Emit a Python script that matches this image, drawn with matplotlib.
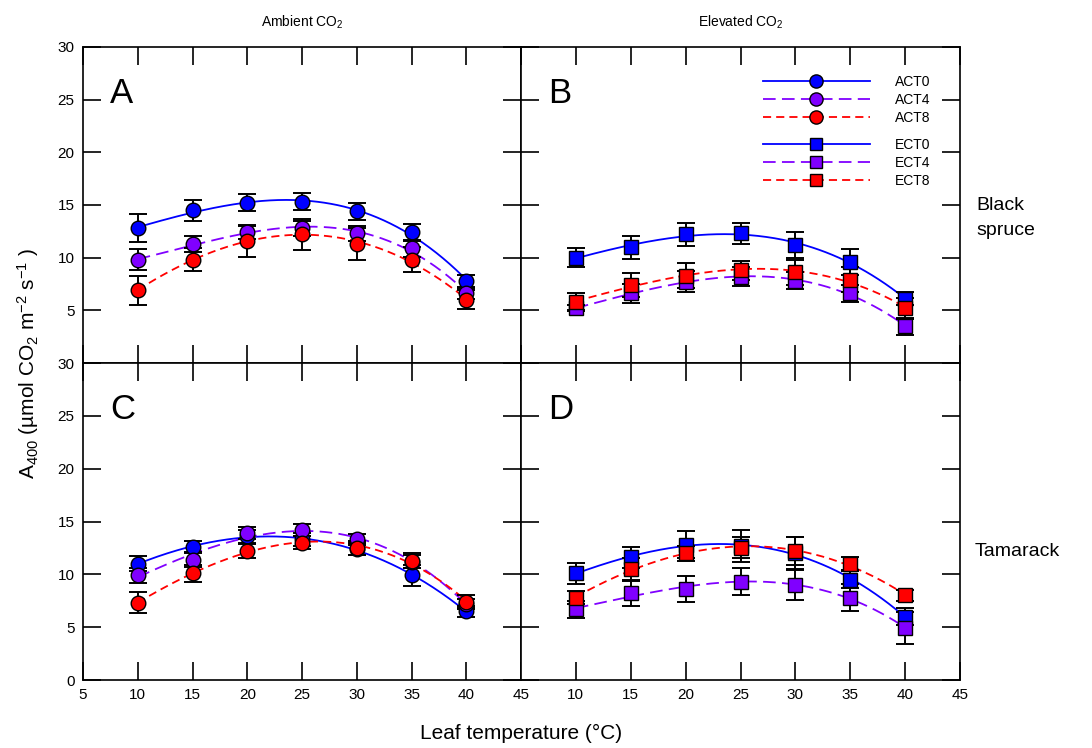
import numpy as np
import matplotlib
matplotlib.use("Agg")
import matplotlib.pyplot as plt
from matplotlib.lines import Line2D

plt.rcParams["font.family"] = ["Liberation Sans", "DejaVu Sans"]
plt.rcParams["mathtext.fontset"] = "custom"
plt.rcParams["mathtext.rm"] = "Liberation Sans"
plt.rcParams["mathtext.it"] = "Liberation Sans:italic"

temps = [10, 15, 20, 25, 30, 35, 40]

# Panel A: black spruce, ambient CO2
a_t0 = [12.8, 14.5, 15.2, 15.3, 14.4, 12.4, 7.8]
a_t0_err = [1.3, 1.0, 0.8, 0.8, 0.8, 0.8, 0.6]
a_t4 = [9.8, 11.3, 12.4, 12.8, 12.3, 10.9, 6.6]
a_t4_err = [1.0, 0.8, 0.6, 0.7, 0.7, 0.8, 0.5]
a_t8 = [6.9, 9.8, 11.6, 12.2, 11.3, 9.8, 6.0]
a_t8_err = [1.4, 1.1, 1.5, 1.5, 1.5, 1.2, 0.9]

# Panel B: black spruce, elevated CO2
b_t0 = [10.0, 11.0, 12.2, 12.3, 11.2, 9.6, 6.1]
b_t0_err = [0.9, 1.1, 1.1, 1.0, 1.2, 1.2, 0.6]
b_t4 = [5.2, 6.6, 7.7, 8.2, 7.8, 6.6, 3.5]
b_t4_err = [0.3, 0.9, 1.0, 0.9, 0.8, 0.8, 0.8]
b_t8 = [5.8, 7.4, 8.3, 8.8, 8.6, 7.9, 5.2]
b_t8_err = [0.8, 1.1, 1.2, 0.9, 1.2, 1.2, 1.0]

# Panel C: tamarack, ambient CO2
c_t0 = [11.0, 12.6, 13.6, 13.3, 12.4, 9.9, 6.5]
c_t0_err = [0.7, 0.6, 0.6, 0.6, 0.6, 1.0, 0.5]
c_t4 = [9.9, 11.4, 13.9, 14.2, 13.3, 11.2, 7.2]
c_t4_err = [0.7, 0.7, 0.6, 0.6, 0.5, 0.6, 0.5]
c_t8 = [7.3, 10.1, 12.2, 13.0, 12.5, 11.3, 7.4]
c_t8_err = [1.0, 0.8, 0.7, 0.6, 0.7, 0.7, 0.6]

# Panel D: tamarack, elevated CO2
d_t0 = [10.1, 11.6, 12.8, 12.7, 12.0, 9.5, 6.0]
d_t0_err = [1.0, 1.0, 1.3, 1.5, 1.5, 0.8, 0.8]
d_t4 = [6.7, 8.2, 8.6, 9.3, 9.0, 7.8, 4.9]
d_t4_err = [0.8, 1.2, 1.2, 1.3, 1.4, 1.3, 1.5]
d_t8 = [7.8, 10.5, 12.0, 12.5, 12.2, 11.0, 8.0]
d_t8_err = [0.6, 1.0, 0.7, 1.0, 1.3, 0.6, 0.5]

blue = "#0000ff"
purple = "#8000ff"
red = "#ff0000"
styles = [
    (blue, (None, None), "-"),
    (purple, (7, 3.5), "--"),
    (red, (4.5, 2.8), "--"),
]

fig = plt.figure(figsize=(10.92, 7.48), dpi=100)

L, M, R = 83 / 1092, 521 / 1092, 960 / 1092
T, C, B = 1 - 47 / 748, 1 - 363 / 748, 1 - 680 / 748
w = M - L
h = T - C

ax_a = fig.add_axes([L, C, w, h])
ax_b = fig.add_axes([M, C, R - M, h])
ax_c = fig.add_axes([L, B, w, C - B])
ax_d = fig.add_axes([M, B, R - M, C - B])

panels = [
    (ax_a, "A", "o", [(a_t0, a_t0_err), (a_t4, a_t4_err), (a_t8, a_t8_err)]),
    (ax_b, "B", "s", [(b_t0, b_t0_err), (b_t4, b_t4_err), (b_t8, b_t8_err)]),
    (ax_c, "C", "o", [(c_t0, c_t0_err), (c_t4, c_t4_err), (c_t8, c_t8_err)]),
    (ax_d, "D", "s", [(d_t0, d_t0_err), (d_t4, d_t4_err), (d_t8, d_t8_err)]),
]

xs = np.linspace(10, 40, 200)
for ax, letter, mk, series in panels:
    for (vals, errs), (col, dash, ls) in zip(series, styles):
        coef = np.polyfit(temps, vals, 3)
        ln, = ax.plot(xs, np.polyval(coef, xs), color=col, lw=1.3, ls=ls, zorder=2)
        if dash[0] is not None:
            ln.set_dashes(dash)
        ax.errorbar(temps, vals, yerr=errs, fmt="none", ecolor="black",
                    elinewidth=1.4, capsize=6.5, capthick=1.4, zorder=3)
        ax.plot(temps, vals, ls="none", marker=mk, ms=10.5 if mk == "o" else 10,
                mfc=col, mec="black", mew=1.0, zorder=4)
    ax.set_xlim(5, 45)
    ax.set_ylim(0, 30)
    ax.set_xticks([5, 10, 15, 20, 25, 30, 35, 40, 45])
    ax.tick_params(direction="in", length=13, width=1.2, top=True, right=True,
                   labelsize=11, pad=6)
    for sp in ax.spines.values():
        sp.set_linewidth(1.2)
    ax.text(0.062, 0.822, letter, transform=ax.transAxes, fontsize=25,
            va="baseline", ha="left")

ax_a.set_yticks([5, 10, 15, 20, 25, 30])
ax_b.set_yticks([5, 10, 15, 20, 25, 30])
ax_c.set_yticks([0, 5, 10, 15, 20, 25, 30])
ax_d.set_yticks([0, 5, 10, 15, 20, 25, 30])
for ax in (ax_a, ax_b):
    ax.tick_params(labelbottom=False)
for ax in (ax_b, ax_d):
    ax.tick_params(labelleft=False)
ax_d.set_xticks([10, 15, 20, 25, 30, 35, 40, 45])

# legend in panel B
def handle(col, dash, ls, mk):
    ln = Line2D([], [], color=col, lw=1.3, ls=ls, marker=mk,
                ms=9.5 if mk == "o" else 9, mfc=col, mec="black", mew=1.0)
    if dash[0] is not None:
        ln.set_dashes(dash)
    return ln

labels_a = ["ACT0", "ACT4", "ACT8"]
labels_e = ["ECT0", "ECT4", "ECT8"]
leg_kw = dict(loc="upper left", frameon=False, fontsize=10, handlelength=7.7,
              handletextpad=1.8, labelspacing=0.3, numpoints=1,
              borderaxespad=0, borderpad=0)
leg1 = ax_b.legend([handle(c, d, s, "o") for c, d, s in styles], labels_a,
                   bbox_to_anchor=(0.551, 0.912), **leg_kw)
ax_b.add_artist(leg1)
ax_b.legend([handle(c, d, s, "s") for c, d, s in styles], labels_e,
            bbox_to_anchor=(0.551, 0.713), **leg_kw)

fig.text((L + M) / 2, 1 - 22 / 748, r"Ambient CO$_2$", ha="center", va="center", fontsize=10)
fig.text((M + R) / 2, 1 - 22 / 748, r"Elevated CO$_2$", ha="center", va="center", fontsize=10)
fig.text(976 / 1092, 1 - 218 / 748, "Black\nspruce", ha="left", va="center",
         fontsize=14, linespacing=1.6)
fig.text(975 / 1092, 1 - 552 / 748, "Tamarack", ha="left", va="center", fontsize=14)
fig.text((L + R) / 2, 1 - 733 / 748, "Leaf temperature (°C)", ha="center",
         va="center", fontsize=15)
fig.text(28 / 1092, C, r"A$_{400}$ (µmol CO$_2$ m$^{-2}$ s$^{-1}$ )", rotation=90,
         ha="center", va="center", fontsize=15)

fig.savefig("out.png", dpi=100)
